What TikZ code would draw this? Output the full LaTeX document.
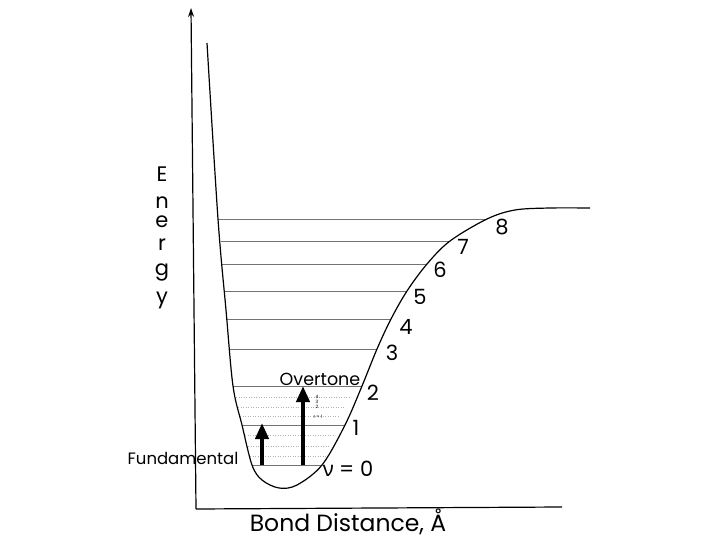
\documentclass[tikz,border=0pt]{standalone}
\usepackage{fontspec}
\setmainfont{Poppins}
\newfontfamily\grk{Noto Sans}
\usetikzlibrary{arrows.meta}
\begin{document}
\begin{tikzpicture}[x=1pt,y=-1pt,
  axisline/.style={line width=1.2pt},
  levelline/.style={line width=0.7pt, black!55},
  faintline/.style={line width=0.5pt, black!30, dotted},
  fatarrow/.style={line width=4pt, -{Triangle[width=13pt,length=16pt]}},
  lbl/.style={inner sep=0pt, font=\fontsize{21}{21}\selectfont},
  tiny/.style={inner sep=0pt, font=\fontsize{4.5}{4.5}\selectfont}]
\useasboundingbox (0,0) rectangle (720,540);
% axes
\coordinate (orig) at (196,509);
\coordinate (ytop) at (191,8);
\coordinate (xend) at (562,507);
\draw[axisline, -{Stealth[width=6pt,length=9pt]}] (orig) -- (ytop);
\draw[axisline] (orig) -- (xend);
% levels
\foreach \n/\y/\xa/\xb in {0/465/252/322, 1/425/242/345, 2/386/233/362, 3/349/230/377, 4/319/227/391, 5/291/224/407, 6/264/222/427, 7/241/221/450, 8/219/218/487}{
  \coordinate (L\n a) at (\xa,\y);
  \coordinate (L\n b) at (\xb,\y);
  \draw[levelline] (L\n a) -- (L\n b);
}
% faint dotted lines
\foreach \y/\xa/\xb in {397/236/350, 407/238/345, 416/240/340, 435/245/335, 446/248/330, 456/250/327}{
  \coordinate (Fa\y) at (\xa,\y);
  \coordinate (Fb\y) at (\xb,\y);
  \draw[faintline] (Fa\y) -- (Fb\y);
}
% curve
\draw[line width=1.2pt] plot[smooth, tension=0.55] coordinates {(207,43) (218,219) (226,310) (233,386) (242,425) (252,465) (262,480) (279,488) (297,485) (322,465) (345,425) (362,386) (377,349) (391,319) (407,291) (427,264) (450,241) (487,219) (515,210) (550,208) (590,208)};
% arrows
\coordinate (fa0) at (262,465);
\coordinate (fa1) at (262,423);
\coordinate (oa0) at (303,465);
\coordinate (oa1) at (303,386);
\draw[fatarrow] (fa0) -- (fa1);
\draw[fatarrow] (oa0) -- (oa1);
% labels
\node[lbl] (n8) at (502,227) {8};
\node[lbl] (n7) at (463,247) {7};
\node[lbl] (n6) at (440,270) {6};
\node[lbl] (n5) at (420,297) {5};
\node[lbl] (n4) at (406,327) {4};
\node[lbl] (n3) at (392,353) {3};
\node[lbl] (n2) at (373,393) {2};
\node[lbl] (n1) at (356,428) {1};
\node[lbl] (n0) at (348,469) {{\grk ν} = 0};
\node[inner sep=0pt, font=\fontsize{17.5}{17.5}\selectfont] (ot) at (320,379) {Overtone};
\node[inner sep=0pt, font=\fontsize{16.5}{16.5}\selectfont] (fu) at (183,458) {Fundamental};
\node[tiny] (t4) at (317,397) {4};
\node[tiny] (t3) at (317,402) {3};
\node[tiny] (t2) at (317,407) {2};
\node[tiny] (t1) at (318,417) {r = 1};
% axis titles
\node[inner sep=0pt, font=\fontsize{23.5}{23.5}\selectfont, anchor=base] (bd) at (348,531) {Bond Distance, Å};
\foreach \c/\y in {E/182, n/208, e/228, r/250, g/275, y/303}{
  \node[inner sep=0pt, font=\fontsize{21}{21}\selectfont, anchor=base] (en\c) at (162,\y) {\c};
}
\end{tikzpicture}
\end{document}
